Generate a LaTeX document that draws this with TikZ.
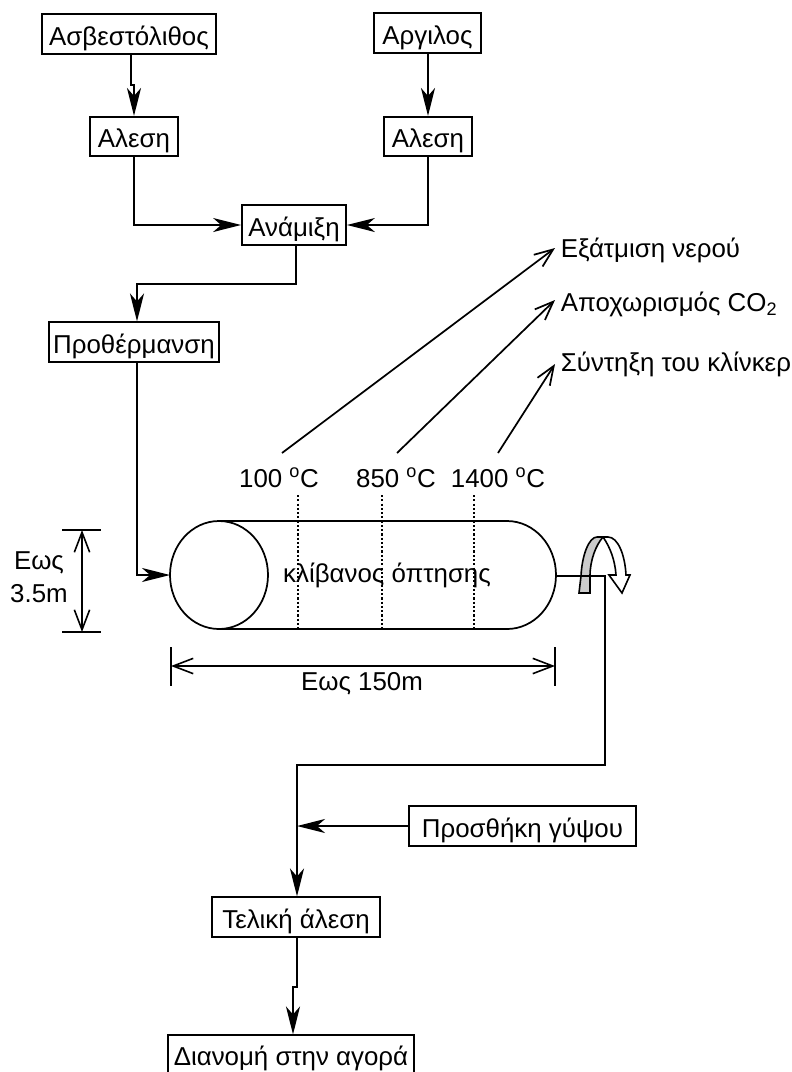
\documentclass[tikz,border=0pt]{standalone}
\usepackage{fontspec}
\setmainfont{Liberation Sans}
\usetikzlibrary{arrows.meta,shapes.geometric}

\begin{document}
\begin{tikzpicture}[x=0.75pt,y=-0.75pt,line width=1.3pt,font=\fontsize{19.4}{23}\selectfont,
  stage/.style={draw,inner sep=0pt,minimum height=29.5pt,text height=16.5pt,text depth=0pt},
  flow/.style={-{Stealth[length=21pt,width=10.5pt,inset=6pt]}},
  thin arrow/.style={-{Straight Barb[length=14pt,width=11pt]},line width=1.3pt},
  dim/.style={{Straight Barb[length=15pt,width=11.5pt]}-{Straight Barb[length=15pt,width=11.5pt]},line width=1.2pt},
  tick/.style={line width=1.2pt},
  lbl/.style={inner sep=0pt}]
\useasboundingbox (0,0) rectangle (792,1072);
% stages
\node[stage,minimum width=130.5pt](limestone) at (129,34){Ασβεστόλιθος};
\node[stage,minimum width=80pt](clay) at (427.5,33){Αργιλος};
\node[stage,minimum width=66pt](millA) at (134,136.5){Αλεση};
\node[stage,minimum width=66pt](millB) at (428,136.5){Αλεση};
\node[stage,minimum width=78pt](mix) at (294,225){Ανάμιξη};
\node[stage,minimum width=127.5pt](preheat) at (134,342){Προθέρμανση};
\node[stage,minimum width=126pt](grind) at (296,917){Τελική άλεση};
\node[stage,minimum width=170pt](gypsum) at (522.5,826){Προσθήκη γύψου};
\node[stage,minimum width=184.5pt,minimum height=28pt](market) at (291,1054){Διανομή στην αγορά};
% kiln
\node[draw,ellipse,inner sep=0pt,outer sep=0pt,minimum width=73.5pt,minimum height=81pt](kilnend) at (219,575){};
\draw (kilnend.north) -- (507,521) arc[start angle=-90,end angle=90,x radius=49,y radius=54] -- (kilnend.south);
\node[lbl](kilnname) at (387,575){κλίβανος όπτησης};
\foreach \x/\n in {298/a,382/b,474/c}{
  \coordinate(top\n) at (\x,495);
  \coordinate(bot\n) at (\x,629);
  \draw[dash pattern=on 1.6pt off 1.6pt,line width=1.2pt](top\n)--(bot\n);
}
\node[lbl](tempA) at (279,478){100 \textsuperscript{o}C};
\node[lbl](tempB) at (396,478){850 \textsuperscript{o}C};
\node[lbl](tempC) at (498,478){1400 \textsuperscript{o}C};
\node[lbl,anchor=west](evap) at (560,250){Εξάτμιση νερού};
\node[lbl,anchor=west](decarb) at (560,304){Αποχωρισμός CO\textsubscript{2}};
\node[lbl,anchor=west](sinter) at (560,364){Σύντηξη του κλίνκερ};
\draw[thin arrow](282,453)--([shift={(-5,-2)}]evap.west);
\draw[thin arrow](397,453)--([shift={(-5,-4)}]decarb.west);
\draw[thin arrow](498,453)--([shift={(-5,0)}]sinter.west);
% rotation
\draw[fill=black!20,line width=1.2pt](579,593)--(581,576).. controls (582,555) and (589,537) .. (597,537)--(603,537).. controls (596,545) and (590,560) .. (590,576)--(590,593)--cycle;
\draw[fill=white,line width=1.2pt](603,537)--(608,537).. controls (618,537) and (625,555) .. (626,575)--(630,575)--(622,593)--(609,575)--(616,575).. controls (615,560) and (610,547) .. (603,537)--cycle;
% flow
\coordinate(shaft) at (556,576);
\draw[flow](limestone.south -| 131,54)--(131,85)--(134,85)--(millA.north);
\draw[flow](clay.south -| 428,52)--(millB.north);
\draw[flow](millA.south)--(134,225)--(mix.west);
\draw[flow](millB.south)--(428,225)--(mix.east);
\draw[flow](mix.south -| 296,244)--(296,284)--(137,284)--(preheat.north -| 137,322);
\draw[flow](preheat.south -| 137,361)--(137,575)--(kilnend.west);
\draw[flow](shaft)--(605,576)--(605,765)--(297,765)--(grind.north -| 297,897);
\draw[flow](gypsum.west)--(297,826);
\draw[flow](grind.south -| 297,937)--(297,987)--(293,987)--(market.north -| 293,1040);
% dimensions
\coordinate(hiA) at (82,530);\coordinate(hiB) at (82,632);
\draw[tick](62,530)--(101,530);
\draw[tick](62,632)--(101,632);
\draw[dim](hiA)--(hiB);
\node[lbl](dimH) at (39,580){\begin{tabular}{@{}c@{}}Εως\\[2pt]3.5m\end{tabular}};
\coordinate(wiA) at (171,666);\coordinate(wiB) at (555,666);
\draw[tick](171,647)--(171,686);
\draw[tick](555,647)--(555,686);
\draw[dim](wiA)--(wiB);
\node[lbl](dimW) at (362,684){Εως 150m};
\end{tikzpicture}
\end{document}
